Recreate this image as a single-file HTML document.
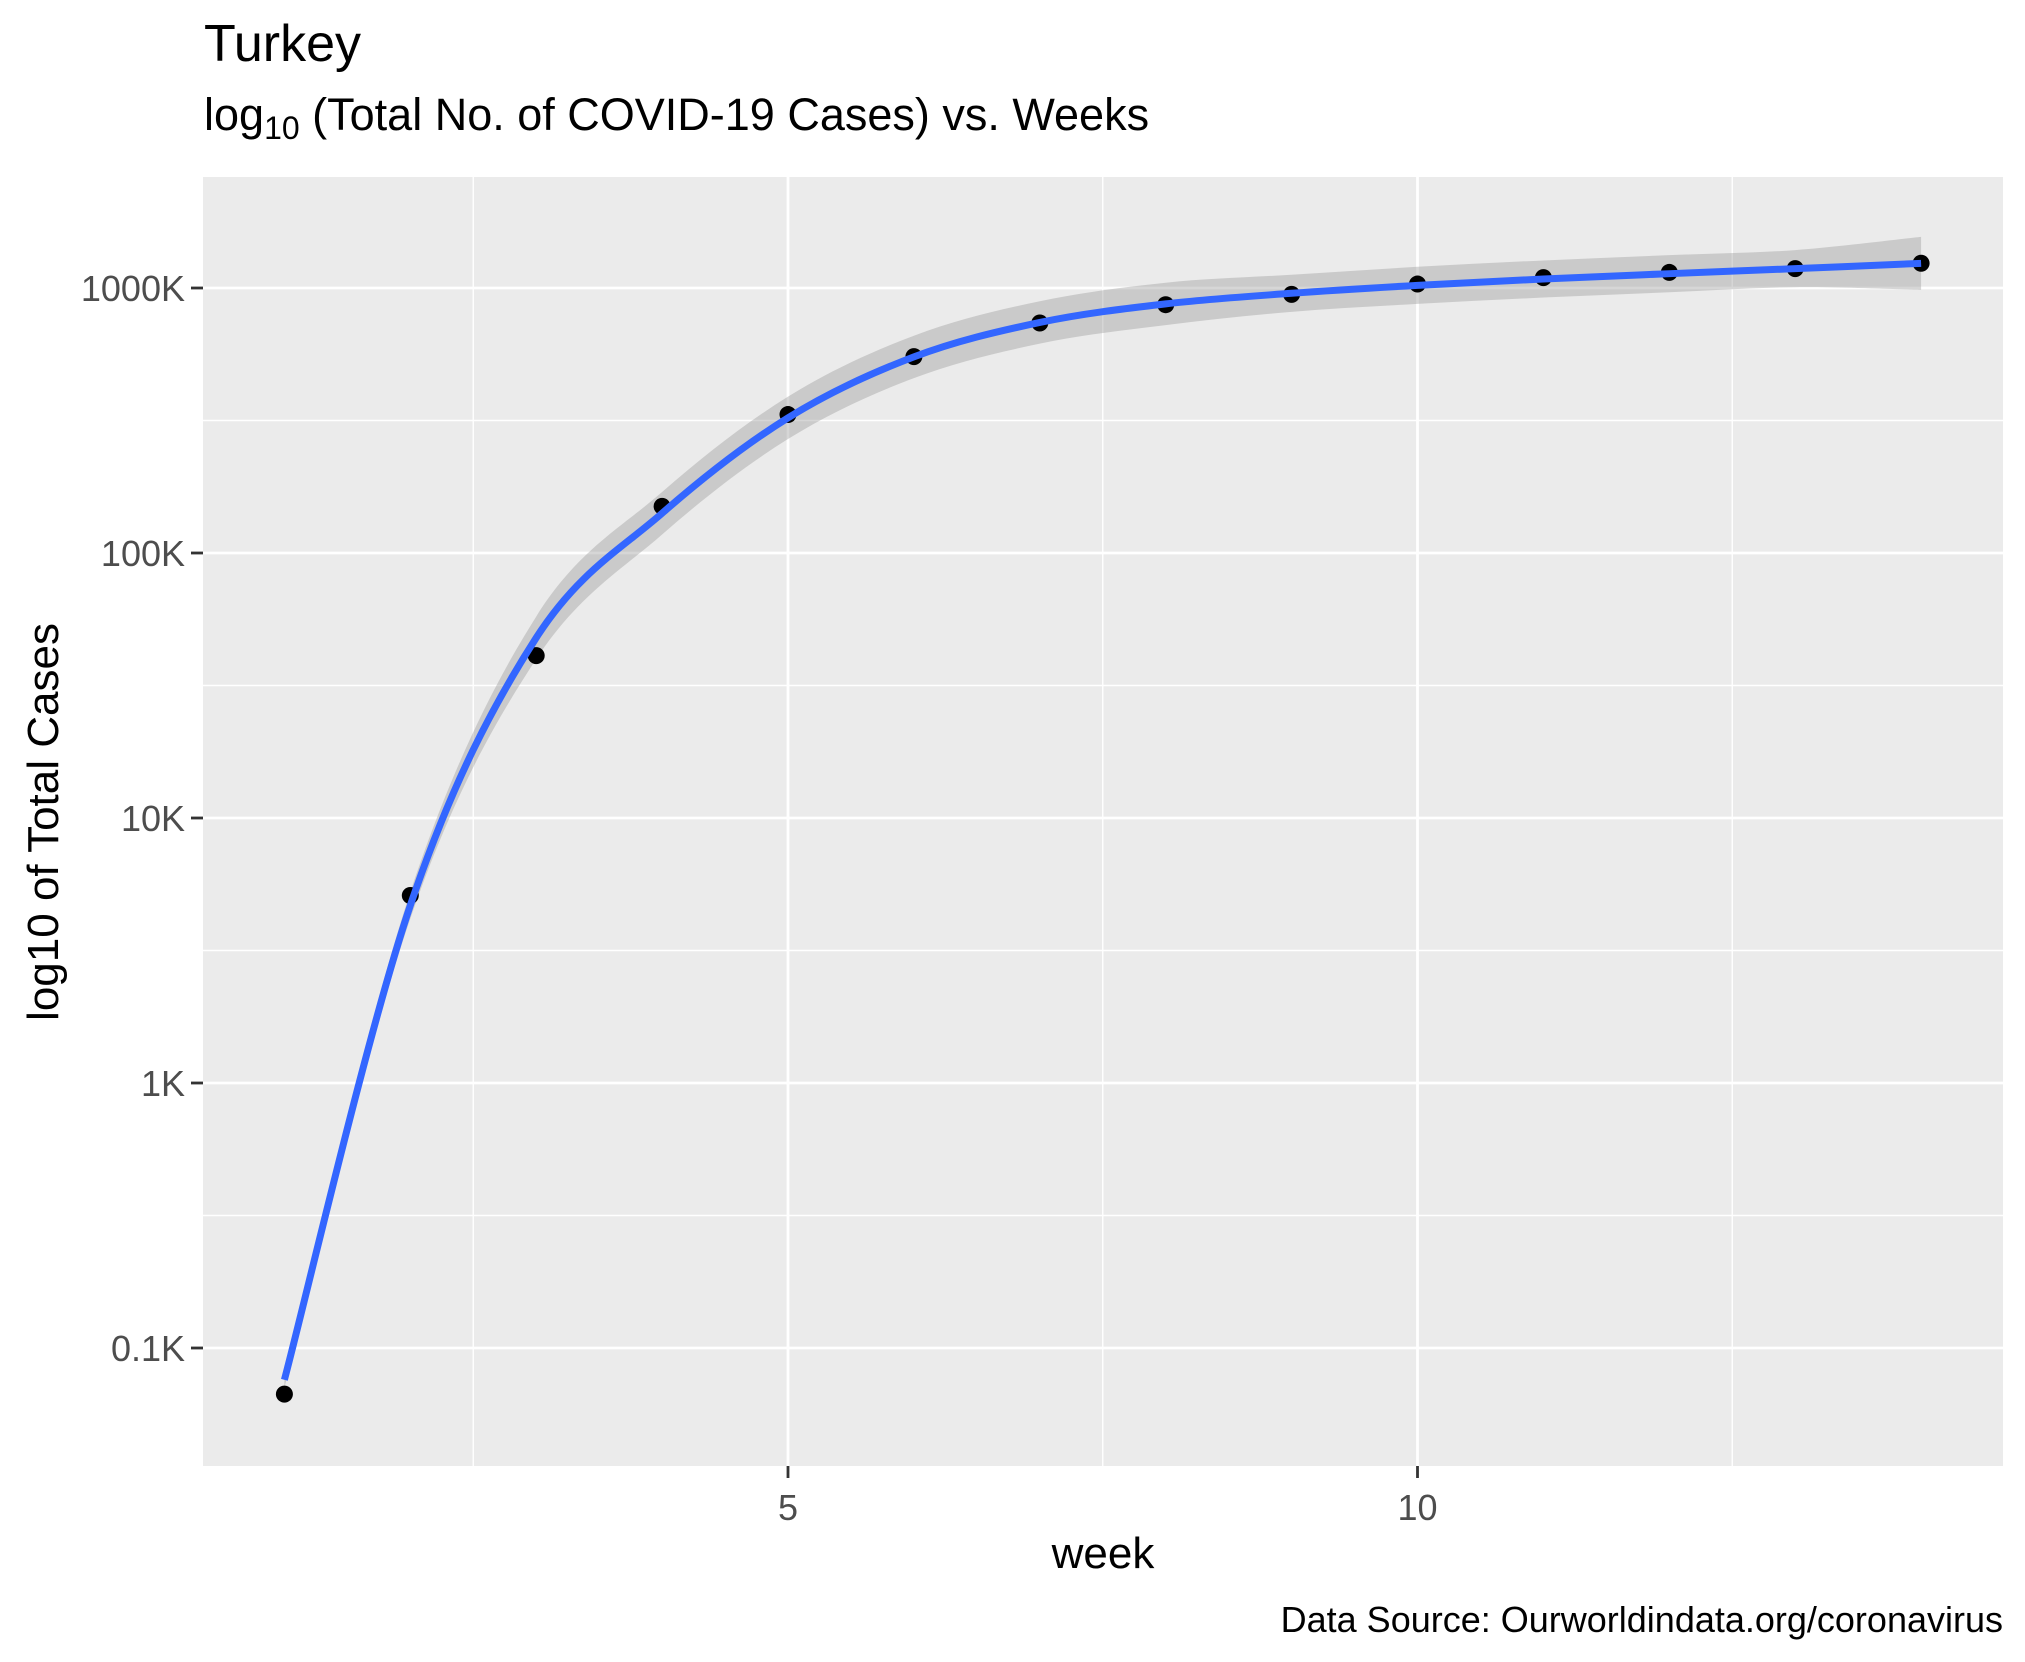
<!DOCTYPE html>
<html><head><meta charset="utf-8"><style>
html,body{margin:0;padding:0;background:#fff;}
svg{display:block;font-family:"Liberation Sans",Arial,sans-serif;}
</style></head><body>
<svg id="chart" width="2025" height="1662" viewBox="0 0 2025 1662" xmlns="http://www.w3.org/2000/svg">
<text x="204" y="61" font-size="52" fill="#000">Turkey</text>
<text x="204" y="130" font-size="45" fill="#000">log<tspan font-size="32" dy="9">10</tspan><tspan dy="-9"> (Total No. of COVID-19 Cases) vs. Weeks</tspan></text>
<rect x="203" y="177" width="1800" height="1289" fill="#ebebeb"/>
<g id="grid"></g>
<g id="band"></g>
<g id="points"></g>
<g id="line"></g>
<g id="axes"></g>
<text x="1103" y="1568" font-size="44" text-anchor="middle" fill="#000">week</text>
<text transform="translate(58,822) rotate(-90)" font-size="44" text-anchor="middle" fill="#000">log10 of Total Cases</text>
<text x="2003" y="1632" font-size="36" text-anchor="end" fill="#000">Data Source: Ourworldindata.org/coronavirus</text>
</svg>
<script>
const weeks = [1,2,3,4,5,6,7,8,9,10,11,12,13,14];
const casesK = [0.067,5.1,41,150,333,551,738,865,946,1035,1094,1145,1183,1240];
const smoothLog = [-1.12,0.67,1.68,2.15,2.51,2.74,2.87,2.94,2.98,3.01,3.034,3.054,3.073,3.093];
const seLog = [0.03,0.05,0.08,0.08,0.08,0.08,0.08,0.08,0.07,0.07,0.07,0.07,0.07,0.1];
const yTicks = [0.1,1,10,100,1000];
const yTickLabels = ["0.1K","1K","10K","100K","1000K"];
const xTicks = [5,10];
const xMinor = [2.5,7.5,12.5];

const NS="http://www.w3.org/2000/svg";
const X = w => 788 + (w-5)*125.9;
const YL = l => 288 - (l-3)*265;
const Y = v => YL(Math.log10(v));
function mk(tag, parent, attrs){const e=document.createElementNS(NS,tag);for(const k in attrs)e.setAttribute(k,attrs[k]);document.getElementById(parent).appendChild(e);return e;}

xMinor.forEach(w=>{const e=mk('line','grid',{x1:X(w),x2:X(w),y1:177,y2:1466,stroke:'#fff','stroke-width':1.4});

});
yTicks.slice(0,4).forEach(v=>{const yy=Y(v*Math.sqrt(10));const e=mk('line','grid',{x1:203,x2:2003,y1:yy,y2:yy,stroke:'#fff','stroke-width':1.4});

});
xTicks.forEach(w=>{const e=mk('line','grid',{x1:X(w),x2:X(w),y1:177,y2:1466,stroke:'#fff','stroke-width':2.8});

});
yTicks.forEach(v=>{const e=mk('line','grid',{x1:203,x2:2003,y1:Y(v),y2:Y(v),stroke:'#fff','stroke-width':2.8});

});

function spline(pts){let d=`M${pts[0][0]},${pts[0][1]}`;
for(let i=0;i<pts.length-1;i++){const p0=pts[Math.max(0,i-1)],p1=pts[i],p2=pts[i+1],p3=pts[Math.min(pts.length-1,i+2)];
d+=` C${p1[0]+(p2[0]-p0[0])/6},${p1[1]+(p2[1]-p0[1])/6} ${p2[0]-(p3[0]-p1[0])/6},${p2[1]-(p3[1]-p1[1])/6} ${p2[0]},${p2[1]}`;}return d;}
const up = weeks.map((w,i)=>[X(w),YL(smoothLog[i]+seLog[i])]);
const lo = weeks.map((w,i)=>[X(w),YL(smoothLog[i]-seLog[i])]).reverse();
const loD = spline(lo).replace(/^M/,'L');
const band = mk('path','band',{d:spline(up)+' '+loD+' Z',fill:'#999','fill-opacity':0.4});



weeks.forEach((w,i)=>{const c=mk('circle','points',{cx:X(w),cy:Y(casesK[i]),r:8.5,fill:'#000'});

});

const ln = mk('path','line',{d:spline(weeks.map((w,i)=>[X(w),YL(smoothLog[i])])),fill:'none',stroke:'#3366ff','stroke-width':7});



yTicks.forEach((v,i)=>{const t=mk('line','axes',{x1:191,x2:203,y1:Y(v),y2:Y(v),stroke:'#333','stroke-width':2.8});


const l=mk('text','axes',{x:185,y:Y(v)+13,'font-size':36,'text-anchor':'end',fill:'#4d4d4d'});l.textContent=yTickLabels[i];

});
xTicks.forEach(w=>{const t=mk('line','axes',{x1:X(w),x2:X(w),y1:1466,y2:1478,stroke:'#333','stroke-width':2.8});


const l=mk('text','axes',{x:X(w),y:1520,'font-size':36,'text-anchor':'middle',fill:'#4d4d4d'});l.textContent=w;

});
</script>
</body></html>
